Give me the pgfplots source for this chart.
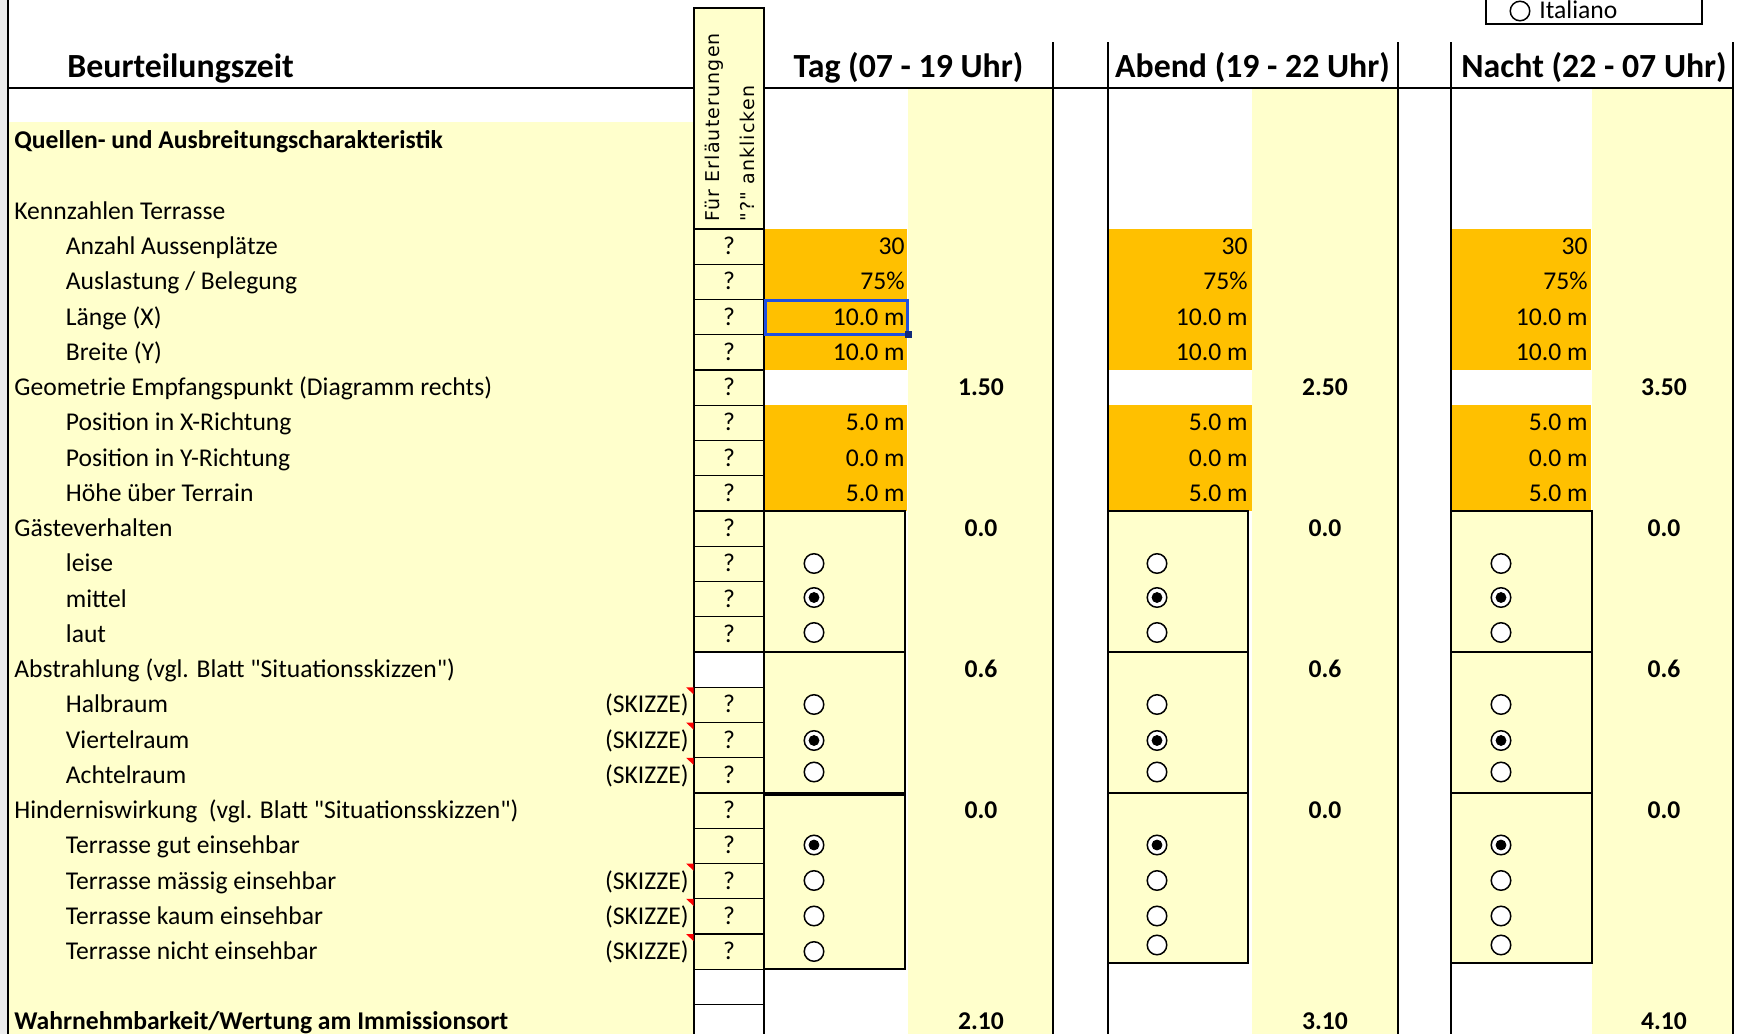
\documentclass[border=0pt]{standalone}
\usepackage{pgfplots}
\pgfplotsset{compat=1.18}
\usepackage{fontspec}
\setmainfont{Carlito}[Ligatures=TeXOff]
\newfontfamily\rotfont{DejaVu Sans}[LetterSpace=6,Ligatures=TeXOff]
\definecolor{ylw}{HTML}{FFFFCC}
\definecolor{org}{HTML}{FFC000}
\definecolor{selblue}{HTML}{1F4FE0}
\newcommand\fs{\fontsize{12.8bp}{15bp}\selectfont}
\newcommand\fh{\fontsize{16.9bp}{19bp}\selectfont\bfseries}
\newcommand\dq{\symbol{34}}
\newcommand\lab[3]{\node[anchor=base west,inner sep=0pt,font=\fs] at (axis cs:#1,#2) {#3};}
\newcommand\blab[3]{\node[anchor=base west,inner sep=0pt,font=\fs\bfseries] at (axis cs:#1,#2) {#3};}
\newcommand\rval[3]{\node[anchor=base east,inner sep=0pt,font=\fs] at (axis cs:#1,#2) {#3};}
\newcommand\cval[3]{\node[anchor=base,inner sep=0pt,font=\fs\bfseries] at (axis cs:#1,#2) {#3};}
\newcommand\qcell[3]{\filldraw[fill=#3,draw=black,line width=0.7bp] (axis cs:694,#1) rectangle (axis cs:764,#2);}
\newcommand\qm[1]{\node[anchor=base,inner sep=0pt,font=\fs] at (axis cs:729,#1) {?};}
\newcommand\tri[1]{\fill[red] (axis cs:686,#1) -- (axis cs:693.5,#1) -- ([yshift=-3.5bp]axis cs:693.5,#1) -- cycle;}
\begin{document}
\begin{tikzpicture}
\begin{axis}[scale only axis, width=870.5bp, height=517bp,
  xmin=0, xmax=1741, ymin=0, ymax=1034, y dir=reverse,
  hide axis, clip=true]
% ---------- backgrounds
\fill[white] (axis cs:0,0) rectangle (axis cs:1741,1034);
\fill[black!7] (axis cs:0,0) rectangle (axis cs:7,1034);
\fill[ylw] (axis cs:9,122) rectangle (axis cs:694,1034);
\fill[ylw] (axis cs:908,88) rectangle (axis cs:1053,1034);
\fill[ylw] (axis cs:1252,88) rectangle (axis cs:1398,1034);
\fill[ylw] (axis cs:1592,88) rectangle (axis cs:1733,1034);
% orange input cells
\fill[org] (axis cs:764,229) rectangle (axis cs:907,370);
\fill[org] (axis cs:764,405.25) rectangle (axis cs:907,511);
\fill[org] (axis cs:1108,229) rectangle (axis cs:1252,370);
\fill[org] (axis cs:1108,405.25) rectangle (axis cs:1252,511);
\fill[org] (axis cs:1451,229) rectangle (axis cs:1591,370);
\fill[org] (axis cs:1451,405.25) rectangle (axis cs:1591,511);
% radio group boxes
\filldraw[fill=ylw,draw=black,line width=0.6bp] (axis cs:764,511) rectangle (axis cs:905,652);
\filldraw[fill=ylw,draw=black,line width=0.6bp] (axis cs:764,652) rectangle (axis cs:905,793);
\filldraw[fill=ylw,draw=black,line width=0.6bp] (axis cs:764,795) rectangle (axis cs:905,969);
\filldraw[fill=ylw,draw=black,line width=0.6bp] (axis cs:1108,511) rectangle (axis cs:1248,652);
\filldraw[fill=ylw,draw=black,line width=0.6bp] (axis cs:1108,652) rectangle (axis cs:1248,793);
\filldraw[fill=ylw,draw=black,line width=0.6bp] (axis cs:1108,793) rectangle (axis cs:1248,963);
\filldraw[fill=ylw,draw=black,line width=0.6bp] (axis cs:1451,511) rectangle (axis cs:1592,652);
\filldraw[fill=ylw,draw=black,line width=0.6bp] (axis cs:1451,652) rectangle (axis cs:1592,793);
\filldraw[fill=ylw,draw=black,line width=0.6bp] (axis cs:1451,793) rectangle (axis cs:1592,963);
\draw[line width=1.4bp] (axis cs:764,652) -- (axis cs:905,652);
\draw[line width=1.4bp] (axis cs:1108,652) -- (axis cs:1248,652);
\draw[line width=1.4bp] (axis cs:1451,652) -- (axis cs:1592,652);
\draw[line width=0.6bp] (axis cs:764,792.5) -- (axis cs:905,792.5);
% ---------- grid lines
\draw[line width=0.8bp] (axis cs:8,0) -- (axis cs:8,1034);
\draw[line width=0.6bp] (axis cs:9,88) -- (axis cs:1733,88);
\draw[line width=0.6bp] (axis cs:1053,42) -- (axis cs:1053,1034);
\draw[line width=0.6bp] (axis cs:1108,42) -- (axis cs:1108,1034);
\draw[line width=0.6bp] (axis cs:1398,42) -- (axis cs:1398,1034);
\draw[line width=0.6bp] (axis cs:1451,42) -- (axis cs:1451,1034);
\draw[line width=0.6bp] (axis cs:1733,42) -- (axis cs:1733,1034);
% ---------- "?" column
\filldraw[fill=ylw,draw=black,line width=0.7bp] (axis cs:694,8) rectangle (axis cs:764,229);
\qcell{229}{264.25}{ylw}\qcell{264.25}{299.5}{ylw}\qcell{299.5}{334.75}{ylw}\qcell{334.75}{370}{ylw}
\qcell{370}{405.25}{ylw}\qcell{405.25}{440.5}{ylw}\qcell{440.5}{475.75}{ylw}\qcell{475.75}{511}{ylw}
\qcell{511}{546.25}{ylw}\qcell{546.25}{581.5}{ylw}\qcell{581.5}{616.75}{ylw}\qcell{616.75}{652}{ylw}
\qcell{652}{687.25}{white}\qcell{687.25}{722.5}{ylw}\qcell{722.5}{757.75}{ylw}\qcell{757.75}{793}{ylw}
\qcell{793}{828.25}{ylw}\qcell{828.25}{863.5}{ylw}\qcell{863.5}{898.75}{ylw}\qcell{898.75}{934}{ylw}
\qcell{934}{969.25}{ylw}\qcell{969.25}{1004.5}{white}\qcell{1004.5}{1039.75}{white}
\qm{254.5}\qm{289.75}\qm{325}\qm{360.25}\qm{395.5}\qm{430.75}\qm{466}\qm{501.25}
\qm{536.5}\qm{571.75}\qm{607}\qm{642.25}\qm{712.75}\qm{748}\qm{783.25}
\qm{818.5}\qm{853.75}\qm{889}\qm{924.25}\qm{959.5}
\node[rotate=90,anchor=base west,inner sep=0pt,font=\rotfont\fontsize{9.5bp}{11bp}\selectfont] at (axis cs:719,222) {Für Erläuterungen};
\node[rotate=90,anchor=base west,inner sep=0pt,font=\rotfont\fontsize{9.5bp}{11bp}\selectfont] at (axis cs:754,222) {\dq?\dq\ anklicken};
% comment markers
\tri{687.25}\tri{722.5}\tri{757.75}\tri{863.5}\tri{898.75}\tri{934}
% ---------- headers
\node[anchor=base west,inner sep=0pt,font=\fh] at (axis cs:67,77) {Beurteilungszeit};
\node[anchor=base,inner sep=0pt,font=\fh] at (axis cs:908.5,77) {Tag (07 - 19 Uhr)};
\node[anchor=base,inner sep=0pt,font=\fh] at (axis cs:1252.5,77) {Abend (19 - 22 Uhr)};
\node[anchor=base,inner sep=0pt,font=\fh] at (axis cs:1594,77) {Nacht (22 - 07 Uhr)};
% Italiano box (top of sheet)
\filldraw[fill=white,draw=black,line width=0.6bp] (axis cs:1486,-20) rectangle (axis cs:1702,24);
\node[anchor=base west,inner sep=0pt,font=\fs] at (axis cs:1539,18) {Italiano};
% ---------- row labels
\blab{14}{148.5}{Quellen- und Ausbreitungscharakteristik}
\lab{14}{219.25}{Kennzahlen Terrasse}
\lab{65.5}{254.5}{Anzahl Aussenplätze}
\lab{65.5}{289.75}{Auslastung / Belegung}
\lab{65.5}{325}{Länge (X)}
\lab{65.5}{360.25}{Breite (Y)}
\lab{14}{395.5}{Geometrie Empfangspunkt (Diagramm rechts)}
\lab{65.5}{430.75}{Position in X-Richtung}
\lab{65.5}{466}{Position in Y-Richtung}
\lab{65.5}{501.25}{Höhe über Terrain}
\lab{14}{536.5}{Gästeverhalten}
\lab{65.5}{571.75}{leise}
\lab{65.5}{607}{mittel}
\lab{65.5}{642.25}{laut}
\lab{14}{677.5}{Abstrahlung (vgl. Blatt \dq Situationsskizzen\dq)}
\lab{65.5}{712.75}{Halbraum}
\lab{65.5}{748}{Viertelraum}
\lab{65.5}{783.25}{Achtelraum}
\lab{14}{818.5}{Hinderniswirkung\ \ (vgl. Blatt \dq Situationsskizzen\dq)}
\lab{65.5}{853.75}{Terrasse gut einsehbar}
\lab{65.5}{889}{Terrasse mässig einsehbar}
\lab{65.5}{924.25}{Terrasse kaum einsehbar}
\lab{65.5}{959.5}{Terrasse nicht einsehbar}
\blab{14}{1029}{Wahrnehmbarkeit/Wertung am Immissionsort}
\rval{689}{712.75}{(SKIZZE)}\rval{689}{748}{(SKIZZE)}\rval{689}{783.25}{(SKIZZE)}
\rval{689}{889}{(SKIZZE)}\rval{689}{924.25}{(SKIZZE)}\rval{689}{959.5}{(SKIZZE)}
% ---------- input values (Tag, Abend, Nacht)
\rval{905}{254.5}{30}\rval{1248}{254.5}{30}\rval{1588}{254.5}{30}
\rval{905}{289.75}{75\%}\rval{1248}{289.75}{75\%}\rval{1588}{289.75}{75\%}
\rval{905}{325}{10.0 m}\rval{1248}{325}{10.0 m}\rval{1588}{325}{10.0 m}
\rval{905}{360.25}{10.0 m}\rval{1248}{360.25}{10.0 m}\rval{1588}{360.25}{10.0 m}
\rval{905}{430.75}{5.0 m}\rval{1248}{430.75}{5.0 m}\rval{1588}{430.75}{5.0 m}
\rval{905}{466}{0.0 m}\rval{1248}{466}{0.0 m}\rval{1588}{466}{0.0 m}
\rval{905}{501.25}{5.0 m}\rval{1248}{501.25}{5.0 m}\rval{1588}{501.25}{5.0 m}
% ---------- result values
\cval{981}{395.5}{1.50}\cval{1325}{395.5}{2.50}\cval{1664}{395.5}{3.50}
\cval{981}{536.5}{0.0}\cval{1325}{536.5}{0.0}\cval{1664}{536.5}{0.0}
\cval{981}{677.5}{0.6}\cval{1325}{677.5}{0.6}\cval{1664}{677.5}{0.6}
\cval{981}{818.5}{0.0}\cval{1325}{818.5}{0.0}\cval{1664}{818.5}{0.0}
\cval{981}{1029}{2.10}\cval{1325}{1029}{3.10}\cval{1664}{1029}{4.10}
% selection frame
\draw[selblue,line width=1.5bp] (axis cs:765.5,300.5) rectangle (axis cs:907,334);
\fill[selblue!55!black] (axis cs:905,331) rectangle (axis cs:912,338);
% ---------- radio buttons
\addplot[only marks, mark=*, mark size=4.9pt,
  mark options={fill=white, draw=black, line width=0.75bp}] coordinates {
 (814,563.5) (814,597.5) (814,632.5) (814,704.5) (814,740.5) (814,772) (814,845) (814,880.5) (814,916) (814,951.5)
 (1157,563.5) (1157,597.5) (1157,632.5) (1157,704.5) (1157,740.5) (1157,772) (1157,845) (1157,880.5) (1157,916) (1157,945)
 (1501,563.5) (1501,597.5) (1501,632.5) (1501,704.5) (1501,740.5) (1501,772) (1501,845) (1501,880.5) (1501,916) (1501,945)
 (1520,11)};
\addplot[only marks, mark=*, mark size=2.5pt, black] coordinates {
 (814,597.5) (814,740.5) (814,845)
 (1157,597.5) (1157,740.5) (1157,845)
 (1501,597.5) (1501,740.5) (1501,845)};
\end{axis}
\pgfresetboundingbox
\useasboundingbox (current axis.south west) rectangle (current axis.north east);
\end{tikzpicture}
\end{document}
